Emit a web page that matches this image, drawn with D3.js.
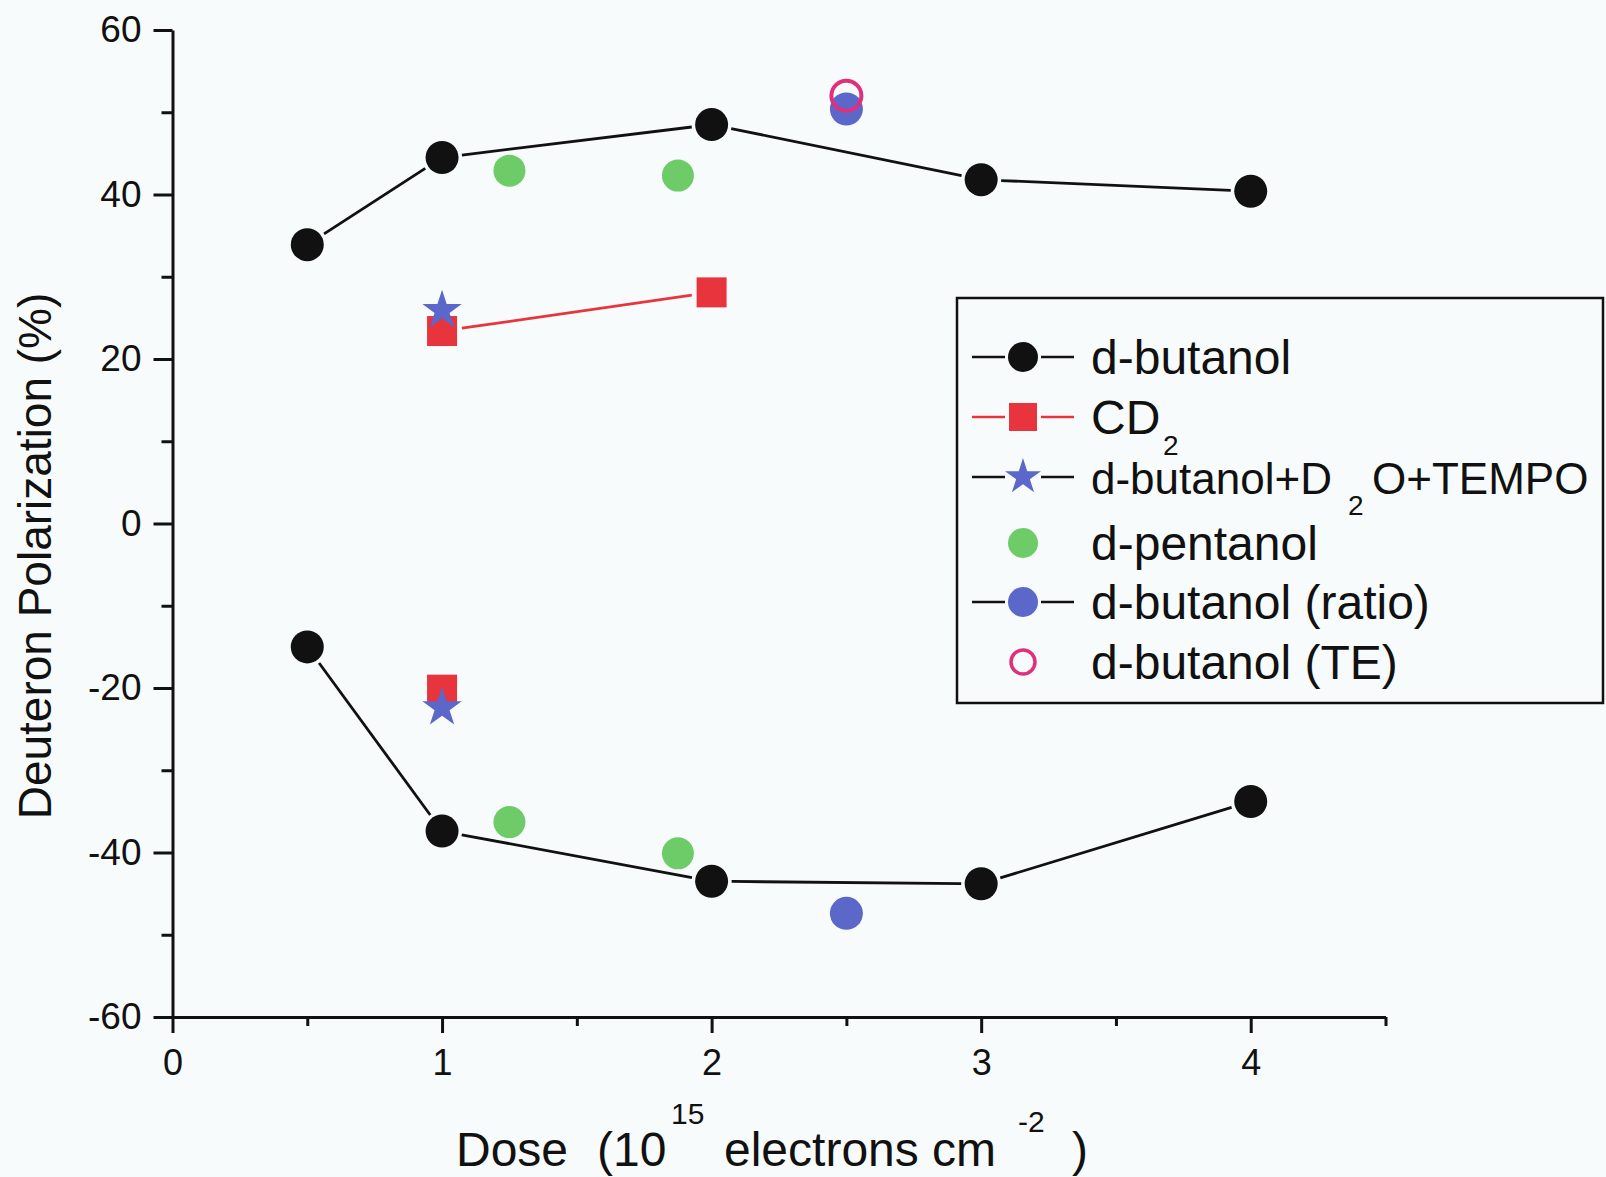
<!DOCTYPE html>
<html>
<head>
<meta charset="utf-8">
<script src="https://cdn.jsdelivr.net/npm/d3@7"></script>
<style>
body{margin:0;background:#f8fbfb;}
svg{display:block;font-family:"Liberation Sans",Arial,sans-serif;}
.axis path,.axis line{stroke:#111;stroke-width:3;}
.axis text{fill:#111;}
</style>
</head>
<body>
<svg width="1606" height="1177"></svg>
<script>
// data
var butanolDose = [0.5, 1, 2, 3, 4]
var butanolUp = [33.9, 44.5, 48.5, 41.8, 40.4]
var butanolDown = [-15.0, -37.4, -43.5, -43.8, -33.8]

var cd2Dose = [1, 2]
var cd2Up = [23.4, 28.1]
var cd2DownDose = [1]
var cd2Down = [-20.2]

var tempoDose = [1]
var tempoUp = [25.9]
var tempoDown = [-22.4]

var pentanolDose = [1.25, 1.875]
var pentanolUp = [42.9, 42.3]
var pentanolDown = [-36.3, -40.1]

var ratioDose = [2.5]
var ratioUp = [50.4]
var ratioDown = [-47.4]

var teDose = [2.5]
var teUp = [52.0]

var xMajor = [0, 1, 2, 3, 4]
var xMinor = [0.5, 1.5, 2.5, 3.5, 4.5]
var yMajor = [-60, -40, -20, 0, 20, 40, 60]
var yMinor = [-50, -30, -10, 10, 30, 50]

var black = "#111", red = "#e8353d", blue = "#5b67c9", green = "#6dcc67", pink = "#e0307c"

var svg = d3.select("svg")

var xScale = d3.scaleLinear().domain([0, 4.5]).range([172.5, 1385.5])
var yScale = d3.scaleLinear().domain([-60, 60]).range([1017, 30])

var pts = function(xs, ys){ return xs.map(function(d,i){ return {x:d, y:ys[i]} }) }
var plain = function(d){ return String(d) }

// axes
var xAxisG = svg.append("g").attr("class","axis").attr("transform","translate(0,"+yScale(-60)+")")
xAxisG.call(d3.axisBottom(xScale).tickValues(xMajor).tickSize(16).tickSizeOuter(0).tickPadding(16).tickFormat(plain))
xAxisG.selectAll("text").attr("font-size",36)
svg.append("g").attr("class","axis").attr("transform","translate(0,"+yScale(-60)+")")
  .call(d3.axisBottom(xScale).tickValues(xMinor).tickSize(9).tickSizeOuter(0).tickFormat(""))
  .select(".domain").remove()

var yAxisG = svg.append("g").attr("class","axis").attr("transform","translate("+xScale(0)+",0)")
yAxisG.call(d3.axisLeft(yScale).tickValues(yMajor).tickSize(19).tickSizeOuter(0).tickPadding(12).tickFormat(plain))
yAxisG.selectAll("text").attr("font-size",37)
svg.append("g").attr("class","axis").attr("transform","translate("+xScale(0)+",0)")
  .call(d3.axisLeft(yScale).tickValues(yMinor).tickSize(11).tickSizeOuter(0).tickFormat(""))
  .select(".domain").remove()

// axis titles
svg.append("text")
  .attr("transform","translate(51,556) rotate(-90)")
  .attr("text-anchor","middle")
  .attr("font-size",46)
  .attr("fill","#111")
  .text("Deuteron Polarization (%)")

var xt = svg.append("text").attr("font-size",48).attr("fill","#111").attr("y",1166)
xt.append("tspan").attr("x",456).text("Dose")
xt.append("tspan").attr("x",597).text("(10")
xt.append("tspan").attr("x",671).attr("y",1124).attr("font-size",30).text("15")
xt.append("tspan").attr("x",724).attr("y",1166).text("electrons cm")
xt.append("tspan").attr("x",1018).attr("y",1132).attr("font-size",30).text("-2")
xt.append("tspan").attr("x",1072).attr("y",1166).text(")")

// lines with small gaps at the markers
var gapLine = function(data, color, gap){
  var segs = []
  for (var i = 0; i < data.length-1; i++){
    var x1 = xScale(data[i].x), y1 = yScale(data[i].y)
    var x2 = xScale(data[i+1].x), y2 = yScale(data[i+1].y)
    var len = Math.hypot(x2-x1, y2-y1)
    var ux = (x2-x1)/len, uy = (y2-y1)/len
    segs.push([x1+ux*gap, y1+uy*gap, x2-ux*gap, y2-uy*gap])
  }
  svg.append("g").selectAll("line").data(segs).enter().append("line")
    .attr("x1",function(s){return s[0]}).attr("y1",function(s){return s[1]})
    .attr("x2",function(s){return s[2]}).attr("y2",function(s){return s[3]})
    .attr("stroke",color).attr("stroke-width",2.8)
}

var circles = function(data, r, fill, stroke){
  svg.append("g").selectAll("circle").data(data).enter().append("circle")
    .attr("cx",function(d){return xScale(d.x)})
    .attr("cy",function(d){return yScale(d.y)})
    .attr("r",r)
    .attr("fill",fill)
    .attr("stroke",stroke || "none")
    .attr("stroke-width",4)
}

var squares = function(data, s, fill){
  svg.append("g").selectAll("rect").data(data).enter().append("rect")
    .attr("x",function(d){return xScale(d.x)-s/2})
    .attr("y",function(d){return yScale(d.y)-s/2})
    .attr("width",s).attr("height",s)
    .attr("fill",fill)
}

var stars = function(data, size, fill){
  svg.append("g").selectAll("path").data(data).enter().append("path")
    .attr("d",d3.symbol().type(d3.symbolStar).size(size))
    .attr("transform",function(d){return "translate("+xScale(d.x)+","+yScale(d.y)+")"})
    .attr("fill",fill)
}

// d-butanol
gapLine(pts(butanolDose,butanolUp), black, 20)
gapLine(pts(butanolDose,butanolDown), black, 20)
circles(pts(butanolDose,butanolUp), 16.5, black)
circles(pts(butanolDose,butanolDown), 16.5, black)

// CD2
gapLine(pts(cd2Dose,cd2Up), red, 20)
squares(pts(cd2Dose,cd2Up), 30, red)
squares(pts(cd2DownDose,cd2Down), 30, red)

// d-butanol+D2O+TEMPO
stars(pts(tempoDose,tempoUp), 480, blue)
stars(pts(tempoDose,tempoDown), 480, blue)

// d-pentanol
circles(pts(pentanolDose,pentanolUp), 16, green)
circles(pts(pentanolDose,pentanolDown), 16, green)

// d-butanol (ratio)
circles(pts(ratioDose,ratioUp), 16.5, blue)
circles(pts(ratioDose,ratioDown), 16.5, blue)

// d-butanol (TE)
circles(pts(teDose,teUp), 15, "none", pink)

// legend
svg.append("rect").attr("x",957).attr("y",298).attr("width",646).attr("height",405)
  .attr("fill","none").attr("stroke","#111").attr("stroke-width",2.5)

var legendNames = ["d-butanol","CD","d-butanol+D","d-pentanol","d-butanol (ratio)","d-butanol (TE)"]
var legendY = [357, 417, 477, 543, 602, 662]
var legendLine = [black, red, black, null, black, null]
var legendSym = ["circle","square","star","circle","circle","open"]
var legendFill = [black, red, blue, green, blue, pink]

var lg = svg.append("g")
legendNames.forEach(function(name, i){
  var cy = legendY[i], cx = 1023
  if (legendLine[i]) {
    lg.append("line").attr("x1",972).attr("x2",1005).attr("y1",cy).attr("y2",cy).attr("stroke",legendLine[i]).attr("stroke-width",2.5)
    lg.append("line").attr("x1",1041).attr("x2",1074).attr("y1",cy).attr("y2",cy).attr("stroke",legendLine[i]).attr("stroke-width",2.5)
  }
  if (legendSym[i] == "circle") lg.append("circle").attr("cx",cx).attr("cy",cy).attr("r",15).attr("fill",legendFill[i])
  if (legendSym[i] == "open") lg.append("circle").attr("cx",cx).attr("cy",cy).attr("r",12).attr("fill","none").attr("stroke",legendFill[i]).attr("stroke-width",3.5)
  if (legendSym[i] == "square") lg.append("rect").attr("x",cx-14).attr("y",cy-14).attr("width",28).attr("height",28).attr("fill",legendFill[i])
  if (legendSym[i] == "star") lg.append("path").attr("d",d3.symbol().type(d3.symbolStar).size(400)).attr("transform","translate("+cx+","+cy+")").attr("fill",legendFill[i])

  var t = lg.append("text").attr("font-size",i == 2 ? 44 : 48).attr("fill","#111").attr("y",cy+17)
  t.append("tspan").attr("x",1091).text(name)
  if (i == 1) {
    t.append("tspan").attr("x",1163).attr("dy",21).attr("font-size",28).text("2")
  }
  if (i == 2) {
    t.append("tspan").attr("x",1348).attr("dy",21).attr("font-size",28).text("2")
    t.append("tspan").attr("x",1372).attr("dy",-21).text("O+TEMPO")
  }
})
</script>
</body>
</html>
